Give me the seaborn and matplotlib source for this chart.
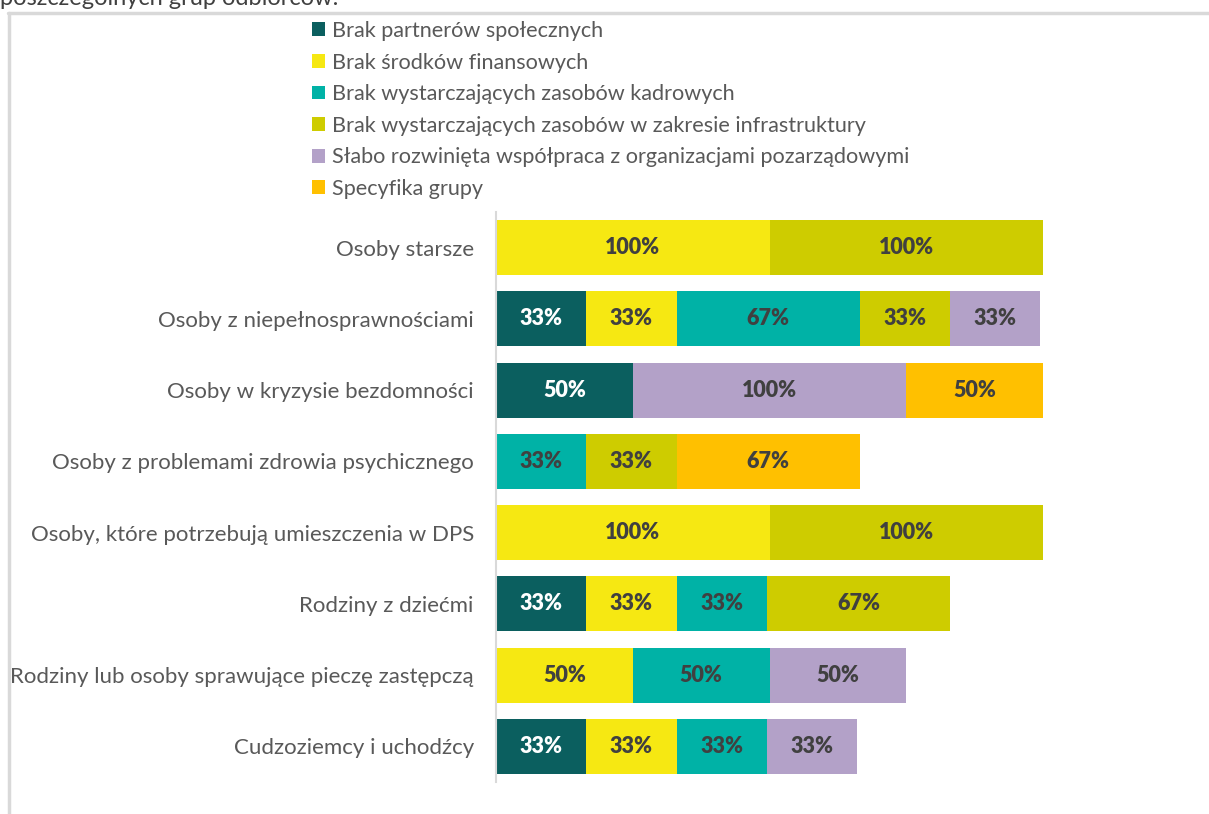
import matplotlib
matplotlib.use("Agg")
import matplotlib.pyplot as plt
from matplotlib.patches import Patch
from matplotlib.lines import Line2D
import numpy as np
import pandas as pd
import seaborn as sns

# Target groups (top to bottom)
groups = [
    "Osoby starsze",
    "Osoby z niepełnosprawnościami",
    "Osoby w kryzysie bezdomności",
    "Osoby z problemami zdrowia psychicznego",
    "Osoby, które potrzebują umieszczenia w DPS",
    "Rodziny z dziećmi",
    "Rodziny lub osoby sprawujące pieczę zastępczą",
    "Cudzoziemcy i uchodźcy",
]

# Barriers (stack order, left to right)
barriers = [
    "Brak partnerów społecznych",
    "Brak środków finansowych",
    "Brak wystarczających zasobów kadrowych",
    "Brak wystarczających zasobów w zakresie infrastruktury",
    "Słabo rozwinięta współpraca z organizacjami pozarządowymi",
    "Specyfika grupy",
]

# Percent of answers per barrier, one list per barrier, values in group order
brak_partnerow = [0, 33, 50, 0, 0, 33, 0, 33]
brak_srodkow = [100, 33, 0, 0, 100, 33, 50, 33]
brak_kadr = [0, 67, 0, 33, 0, 33, 50, 33]
brak_infrastruktury = [100, 33, 0, 33, 100, 67, 0, 0]
slaba_wspolpraca = [0, 33, 100, 0, 0, 0, 50, 33]
specyfika_grupy = [0, 0, 50, 67, 0, 0, 0, 0]

series = [brak_partnerow, brak_srodkow, brak_kadr,
          brak_infrastruktury, slaba_wspolpraca, specyfika_grupy]

colors = ["#0B5F5F", "#F6E812", "#00B2A6", "#CECC00", "#B3A1C8", "#FFC000"]
label_colors = ["white", "#404040", "#404040", "#404040", "#404040", "#404040"]

sns.set_style("white")
plt.rcParams["font.family"] = ["Lato", "DejaVu Sans"]

fig = plt.figure(figsize=(12.09, 8.14), dpi=100)
ax = fig.add_axes([496 / 1209, 1 - 782 / 814, (1043 - 496) / 1209, (782 - 212) / 814])

df = pd.DataFrame({"group": groups})
vals = np.array(series, dtype=float)
cum = np.cumsum(vals, axis=0)

# Stacked bars: draw cumulative totals from the last segment backwards
for i in range(len(series) - 1, -1, -1):
    df["total"] = cum[i]
    sns.barplot(data=df, y="group", x="total", orient="h", color=colors[i],
                width=0.77, saturation=1, ax=ax, edgecolor="none", linewidth=0)

# Segment value labels
for i, s in enumerate(series):
    for j, v in enumerate(s):
        if v > 0:
            mid = cum[i][j] - v / 2
            ax.text(mid, j, f"{v:.0f}%", ha="center", va="center",
                    fontsize=15.5, fontweight="heavy", color=label_colors[i])

ax.set_xlim(0, 200)
ax.set_ylim(len(groups) - 0.5, -0.5)
ax.set_xlabel("")
ax.set_ylabel("")
ax.set_xticks([])
for side in ["top", "right", "bottom"]:
    ax.spines[side].set_visible(False)
ax.spines["left"].set_color("#D9D9D9")
ax.spines["left"].set_linewidth(1.5)

# Category labels centred on bars, ticks at category boundaries
ax.set_yticks(range(len(groups)))
ax.set_yticklabels(groups, fontsize=16, color="#595959")
ax.tick_params(axis="y", which="major", length=0, pad=16)
ax.set_yticks(np.arange(-0.5, len(groups), 1), minor=True)
ax.tick_params(axis="y", which="minor", length=5, width=1.5, color="#D9D9D9")

# Legend
handles = [Patch(facecolor=c, edgecolor="none") for c in colors]
fig.legend(handles, barriers, loc="upper left",
           bbox_to_anchor=(312 / 1209, 1 - 21 / 814), frameon=False,
           fontsize=15.6, labelcolor="#595959", handlelength=0.6,
           handleheight=0.6, handletextpad=0.3, labelspacing=0.535,
           borderpad=0, borderaxespad=0)

# Frame of the chart area
fig.add_artist(Line2D([9 / 1209, 9 / 1209], [0, 1 - 13 / 814],
                      color="#D9D9D9", lw=2.5, transform=fig.transFigure))
fig.add_artist(Line2D([8 / 1209, 1], [1 - 13 / 814, 1 - 13 / 814],
                      color="#D9D9D9", lw=2.5, transform=fig.transFigure))

# Heading line above the chart
fig.text(0, 1 - 5 / 814, "poszczególnych grup odbiorców:", ha="left",
         va="baseline", fontsize=17, color="#404040")

fig.savefig("out.png", dpi=100)
